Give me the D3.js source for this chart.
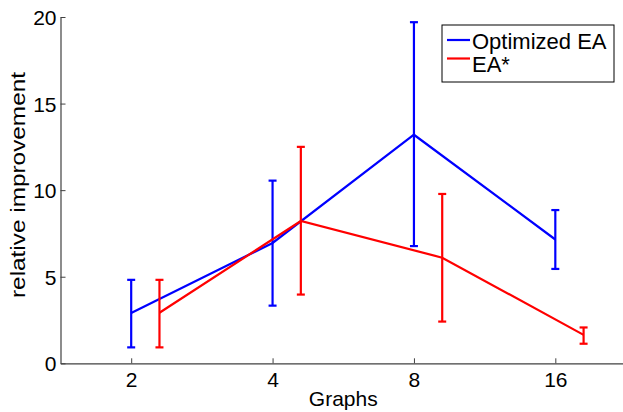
<!DOCTYPE html>
<html>
<head>
<meta charset="utf-8">
<script src="https://cdn.jsdelivr.net/npm/d3@7"></script>
<style>
  body { margin: 0; background: #fff; }
  svg { display: block; font-family: "Liberation Sans", Arial, Helvetica, sans-serif; }
</style>
</head>
<body>
<div id="chart"></div>
<script>
const graphs = ["2", "4", "8", "16"];
const yTicks = [0, 5, 10, 15, 20];

const optMean = [2.9, 6.95, 13.2, 7.15];
const optLow = [0.92, 3.33, 6.77, 5.45];
const optHigh = [4.82, 10.55, 19.7, 8.85];

const eaMean = [2.92, 8.22, 6.1, 1.64];
const eaLow = [0.92, 3.97, 2.41, 1.13];
const eaHigh = [4.82, 12.5, 9.78, 2.07];

const seriesNames = ["Optimized EA", "EA*"];
const seriesColors = ["#0000ff", "#ff0000"];
const seriesShift = [0, 0.2];

const width = 623, height = 412;
const margin = { top: 17, right: -3, bottom: 48.7, left: 60.5 };

const svg = d3.select("#chart")
  .append("svg")
  .attr("width", width)
  .attr("height", height);

const x = d3.scaleLinear()
  .domain([-0.5, 3.5])
  .range([margin.left, width - margin.right]);

const y = d3.scaleLinear()
  .domain([0, 20])
  .range([height - margin.bottom, margin.top]);

// axes (MATLAB style, ticks inward, no box)
const xAxis = d3.axisBottom(x)
  .tickValues(d3.range(graphs.length))
  .tickFormat(i => graphs[i])
  .tickSize(-5)
  .tickPadding(9)
  .tickSizeOuter(0);

const gx = svg.append("g")
  .attr("transform", `translate(0, ${y(0)})`)
  .call(xAxis);

const yAxis = d3.axisLeft(y)
  .tickValues(yTicks)
  .tickSize(-5)
  .tickPadding(4)
  .tickSizeOuter(0);

const gy = svg.append("g")
  .attr("transform", `translate(${x(-0.5)}, 0)`)
  .call(yAxis);

[gx, gy].forEach(g => {
  g.select(".domain").attr("stroke", "#404040").attr("stroke-width", 1.2);
  g.selectAll(".tick line").attr("stroke", "#404040");
  g.selectAll(".tick text")
    .attr("fill", "#000")
    .style("font-size", "21px")
    .style("font-family", "\"Liberation Sans\", Arial, sans-serif");
});
gy.selectAll(".tick text").attr("dy", "0.36em");

svg.append("text")
  .attr("x", (x(-0.5) + x(3.5)) / 2)
  .attr("y", 406)
  .attr("text-anchor", "middle")
  .style("font-size", "21px")
  .text("Graphs");

svg.append("text")
  .attr("transform", "rotate(-90)")
  .attr("x", -185)
  .attr("y", 25)
  .attr("text-anchor", "middle")
  .attr("textLength", 226)
  .attr("lengthAdjust", "spacingAndGlyphs")
  .style("font-size", "21px")
  .text("relative improvement");

// error bar series
const series = [
  { mean: optMean, low: optLow, high: optHigh },
  { mean: eaMean, low: eaLow, high: eaHigh }
];

const cap = 4;
series.forEach((s, k) => {
  const color = seriesColors[k];
  const px = i => x(i + seriesShift[k]);
  const g = svg.append("g")
    .attr("stroke", color)
    .attr("stroke-width", 2.2)
    .attr("fill", "none");

  const line = d3.line()
    .x((d, i) => px(i))
    .y(d => y(d));

  g.append("path")
    .datum(s.mean)
    .attr("stroke-linejoin", "miter")
    .attr("d", line);

  graphs.forEach((_, i) => {
    g.append("line")
      .attr("x1", px(i)).attr("x2", px(i))
      .attr("y1", y(s.low[i])).attr("y2", y(s.high[i]));
    g.append("line")
      .attr("x1", px(i) - cap).attr("x2", px(i) + cap)
      .attr("y1", y(s.low[i])).attr("y2", y(s.low[i]));
    g.append("line")
      .attr("x1", px(i) - cap).attr("x2", px(i) + cap)
      .attr("y1", y(s.high[i])).attr("y2", y(s.high[i]));
  });
});

// legend
const legend = svg.append("g").attr("transform", "translate(442, 25)");
legend.append("rect")
  .attr("width", 172)
  .attr("height", 57)
  .attr("fill", "#fff")
  .attr("stroke", "#000")
  .attr("stroke-width", 1);

seriesNames.forEach((name, k) => {
  const ly = 15 + k * 18.5;
  legend.append("line")
    .attr("x1", 5).attr("x2", 28)
    .attr("y1", ly).attr("y2", ly)
    .attr("stroke", seriesColors[k])
    .attr("stroke-width", 2.2);
  legend.append("text")
    .attr("x", 30)
    .attr("y", 23.5 + k * 23)
    .style("font-size", "22px")
    .text(name);
});
</script>
</body>
</html>
